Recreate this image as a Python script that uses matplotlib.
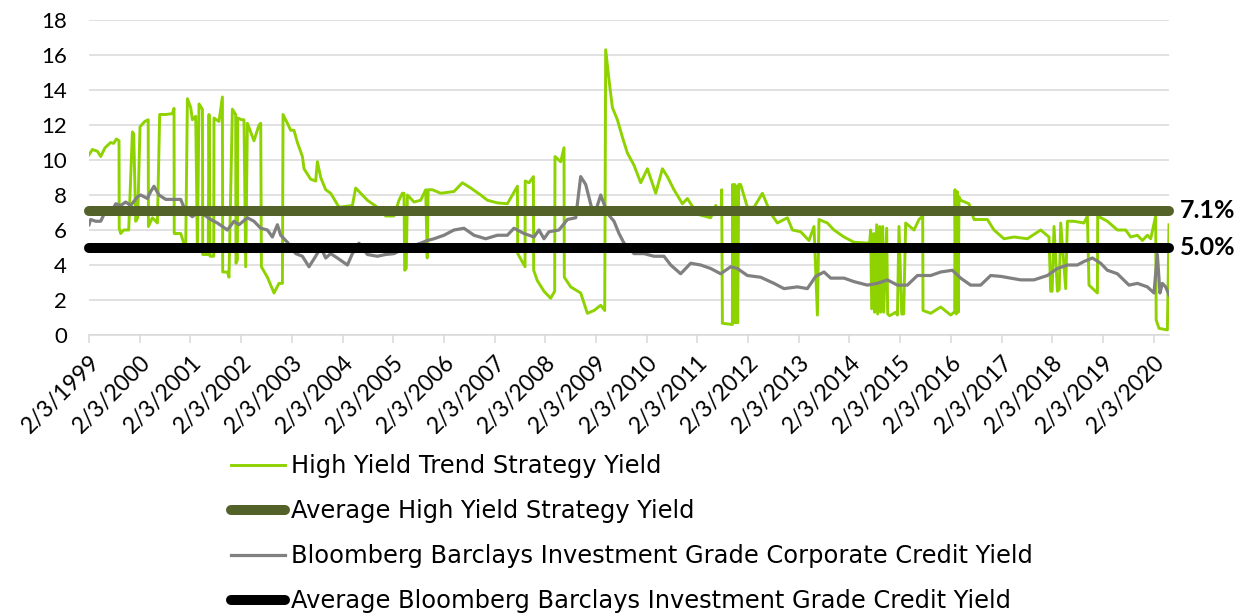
import numpy as np
import matplotlib; matplotlib.use("Agg")
import matplotlib.pyplot as plt

# ── data (decimal years, % yield) ────────────────────────────────────────────
hy_t = [1999.093,1999.160,1999.259,1999.324,1999.409,1999.521,1999.580,1999.633,1999.685,1999.689,
        1999.718,1999.777,1999.876,1999.949,1999.975,2000.014,2000.054,2000.099,2000.192,2000.261,
        2000.265,2000.343,2000.442,2000.487,2000.606,2000.738,2000.770,2000.774,2000.902,2001.000,
        2001.034,2001.099,2001.132,2001.198,2001.231,2001.263,2001.330,2001.336,2001.444,2001.460,
        2001.480,2001.553,2001.558,2001.657,2001.724,2001.730,2001.823,2001.854,2001.921,2001.986,
        2001.992,2002.020,2002.026,2002.105,2002.150,2002.184,2002.217,2002.347,2002.446,2002.480,
        2002.493,2002.612,2002.742,2002.841,2002.908,2002.920,2003.006,2003.071,2003.136,2003.203,
        2003.302,2003.334,2003.466,2003.564,2003.598,2003.663,2003.762,2003.860,2004.024,2004.288,
        2004.353,2004.452,2004.584,2004.781,2004.945,2005.109,2005.207,2005.274,2005.306,2005.320,
        2005.350,2005.373,2005.503,2005.635,2005.734,2005.764,2005.783,2005.866,2006.030,2006.292,
        2006.458,2006.622,2006.819,2006.951,2007.148,2007.345,2007.543,2007.549,2007.693,2007.697,
        2007.772,2007.858,2007.864,2007.937,2008.067,2008.200,2008.278,2008.284,2008.397,2008.462,
        2008.468,2008.594,2008.791,2008.923,2009.054,2009.186,2009.265,2009.284,2009.349,2009.416,
        2009.515,2009.614,2009.712,2009.843,2009.975,2010.107,2010.271,2010.403,2010.501,2010.631,
        2010.797,2010.896,2011.093,2011.355,2011.454,2011.562,2011.572,2011.586,2011.783,2011.789,
        2011.809,2011.829,2011.848,2011.868,2011.888,2011.908,2011.946,2012.079,2012.209,2012.375,
        2012.539,2012.671,2012.868,2012.967,2013.130,2013.294,2013.393,2013.460,2013.491,2013.657,
        2013.787,2013.985,2014.182,2014.446,2014.491,2014.511,2014.531,2014.570,2014.590,2014.629,
        2014.649,2014.689,2014.708,2014.748,2014.767,2014.827,2014.846,2014.886,2014.945,2015.004,
        2015.038,2015.069,2015.123,2015.162,2015.201,2015.365,2015.464,2015.537,2015.543,2015.695,
        2015.892,2016.089,2016.168,2016.174,2016.198,2016.217,2016.237,2016.253,2016.286,2016.450,
        2016.549,2016.813,2016.943,2017.140,2017.338,2017.602,2017.864,2018.028,2018.061,2018.090,
        2018.127,2018.194,2018.230,2018.259,2018.357,2018.391,2018.521,2018.718,2018.785,2018.817,
        2018.983,2018.988,2019.180,2019.377,2019.541,2019.639,2019.772,2019.870,2019.969,2020.034,
        2020.132,2020.142,2020.198,2020.363,2020.395]
hy_v = [10.3,10.6,10.5,10.2,10.7,11.0,10.95,11.2,11.1,6.1,
        5.8,6.0,6.0,11.6,11.5,6.5,6.7,11.9,12.2,12.3,
        6.2,6.7,6.4,12.6,12.6,12.65,12.95,5.8,5.8,4.9,
        13.5,13.0,12.3,12.5,4.8,13.2,12.9,4.6,4.6,12.6,
        4.5,4.5,12.4,12.2,13.6,3.6,3.6,3.3,12.9,12.6,
        4.1,4.3,12.4,12.3,12.3,3.9,12.1,11.1,12.0,12.1,
        3.9,3.3,2.4,2.95,2.95,12.6,12.1,11.7,11.7,11.0,
        10.2,9.5,8.9,8.8,9.9,9.0,8.3,8.1,7.3,7.4,
        8.4,8.1,7.7,7.3,6.8,6.8,7.7,8.1,8.1,3.7,
        3.8,8.0,7.6,7.7,8.3,4.4,8.3,8.3,8.1,8.2,
        8.7,8.4,8.0,7.7,7.55,7.5,8.5,4.65,3.9,8.8,
        8.7,9.05,3.7,3.1,2.5,2.1,2.5,10.2,9.9,10.7,
        3.3,2.75,2.4,1.24,1.4,1.7,1.4,16.3,14.6,13.0,
        12.3,11.3,10.4,9.7,8.7,9.5,8.1,9.5,9.05,8.3,
        7.5,7.8,6.9,6.7,7.4,6.9,8.3,0.67,0.6,8.6,
        0.7,8.6,0.7,8.5,0.7,8.6,8.6,7.3,7.3,8.1,
        6.95,6.4,6.7,6.0,5.9,5.4,6.2,1.14,6.6,6.4,
        6.0,5.6,5.3,5.25,5.3,6.0,1.5,5.8,1.3,6.3,
        1.2,6.2,1.3,6.2,1.3,6.1,1.2,1.1,1.2,1.3,
        1.14,6.2,1.2,1.2,6.4,6.0,6.6,6.8,1.4,1.24,
        1.6,1.14,1.33,8.3,1.2,8.2,1.3,7.9,7.7,7.5,
        6.6,6.6,6.0,5.5,5.6,5.5,6.0,5.6,2.5,2.5,
        6.2,2.5,2.6,6.4,2.65,6.5,6.5,6.4,6.8,2.85,
        2.4,6.8,6.5,6.0,6.0,5.6,5.7,5.4,5.7,5.5,
        6.8,0.86,0.38,0.29,6.3]

ig_t = [1999.093,1999.127,1999.225,1999.324,1999.422,1999.521,1999.620,1999.718,1999.817,1999.915,
        2000.048,2000.113,2000.245,2000.310,2000.375,2000.474,2000.606,2000.770,2000.902,2001.000,
        2001.132,2001.263,2001.395,2001.493,2001.626,2001.823,2001.953,2002.052,2002.217,2002.347,
        2002.480,2002.612,2002.710,2002.809,2002.874,2003.006,2003.170,2003.302,2003.432,2003.564,
        2003.663,2003.762,2003.860,2003.992,2004.190,2004.288,2004.418,2004.584,2004.781,2004.945,
        2005.109,2005.241,2005.635,2005.767,2005.898,2006.095,2006.292,2006.489,2006.686,2006.917,
        2007.148,2007.345,2007.475,2007.673,2007.870,2007.969,2008.067,2008.166,2008.363,2008.529,
        2008.693,2008.791,2008.890,2009.022,2009.087,2009.186,2009.318,2009.448,2009.547,2009.645,
        2009.843,2010.040,2010.237,2010.434,2010.566,2010.763,2010.961,2011.158,2011.355,2011.552,
        2011.750,2011.882,2012.079,2012.341,2012.604,2012.801,2013.065,2013.262,2013.426,2013.590,
        2013.722,2013.985,2014.182,2014.446,2014.643,2014.840,2015.038,2015.235,2015.432,2015.695,
        2015.892,2016.122,2016.286,2016.483,2016.680,2016.878,2017.075,2017.272,2017.469,2017.732,
        2017.996,2018.194,2018.391,2018.588,2018.718,2018.884,2019.047,2019.180,2019.377,2019.606,
        2019.772,2019.969,2020.099,2020.165,2020.217,2020.264,2020.329,2020.395]
ig_v = [6.3,6.6,6.5,6.5,7.1,6.95,7.5,7.4,7.6,7.4,
        7.9,8.0,7.8,8.2,8.5,8.0,7.75,7.75,7.75,7.05,
        6.76,7.05,6.8,6.6,6.4,6.0,6.5,6.3,6.7,6.5,
        6.1,6.0,5.6,6.3,5.7,5.3,4.65,4.5,3.9,4.5,
        5.0,4.4,4.65,4.4,4.0,4.65,5.25,4.6,4.5,4.6,
        4.65,4.85,5.25,5.4,5.5,5.7,6.0,6.1,5.7,5.5,
        5.7,5.7,6.1,5.8,5.6,6.0,5.5,5.9,6.0,6.6,
        6.7,9.05,8.6,7.1,7.1,8.0,6.95,6.5,5.8,5.25,
        4.65,4.65,4.5,4.5,4.0,3.5,4.1,4.0,3.8,3.5,
        3.9,3.8,3.4,3.3,2.95,2.65,2.75,2.65,3.35,3.6,
        3.25,3.25,3.05,2.85,2.95,3.15,2.85,2.85,3.4,3.4,
        3.6,3.7,3.25,2.85,2.85,3.4,3.35,3.25,3.15,3.15,
        3.4,3.8,4.0,4.0,4.2,4.4,4.1,3.7,3.5,2.85,
        2.95,2.75,2.4,4.6,2.4,2.95,2.75,2.3]

avg_hy = 7.1
avg_ig = 5.0
tick_years = list(range(1999, 2021))
TICK_OFF = 34/365.25   # ticks fall on Feb 3rd

labels = ["High Yield Trend Strategy Yield", "Average High Yield Strategy Yield",
          "Bloomberg Barclays Investment Grade Corporate Credit Yield",
          "Average Bloomberg Barclays Investment Grade Credit Yield"]

# ── figure ───────────────────────────────────────────────────────────────────
plt.rcParams["font.family"] = ["Lato", "DejaVu Sans"]
GREEN, OLIVE, GRAY, GRID = "#8ED300", "#536228", "#808080", "#D9D9D9"

fig = plt.figure(figsize=(12.47, 6.14), dpi=100, facecolor="white")
ax = fig.add_axes([89/1247, 1-335/614, (1169-89)/1247, (335-20)/614])
x0, x1 = hy_t[0], hy_t[-1]

ax.plot(hy_t, hy_v, color=GREEN, lw=2.1, zorder=3, label=labels[0])
ax.plot([x0, x1], [avg_hy]*2, color=OLIVE, lw=7.2, solid_capstyle="round",
        zorder=4, clip_on=False, label=labels[1])
ax.plot(ig_t, ig_v, color=GRAY, lw=2.3, zorder=3, label=labels[2])
ax.plot([x0, x1], [avg_ig]*2, color="black", lw=7.2, solid_capstyle="round",
        zorder=4, clip_on=False, label=labels[3])

ax.set_xlim(x0, x1); ax.set_ylim(0, 18)
ax.set_yticks(range(0, 19, 2))
ax.grid(axis="y", color=GRID, lw=1.1); ax.set_axisbelow(True)
for s in ("top", "right", "left"): ax.spines[s].set_visible(False)
ax.spines["bottom"].set_color(GRID); ax.spines["bottom"].set_linewidth(1.1)
ax.tick_params(axis="y", length=0, pad=16, labelsize=16)
ax.set_xticks([y + TICK_OFF for y in tick_years])
ax.set_xticklabels([f"2/3/{y}" for y in tick_years], rotation=45, ha="right",
                   rotation_mode="anchor", fontsize=16.5)
ax.tick_params(axis="x", length=6, width=1.1, color=GRID, pad=6)

for v in (avg_hy, avg_ig):
    ax.annotate(f"{v:.1f}%", xy=(1, v), xycoords=("axes fraction", "data"),
                xytext=(8, 0), textcoords="offset points", va="center", ha="left",
                fontsize=18, fontweight="bold")

fig.legend(loc="upper left", bbox_to_anchor=(231/1247, 1-454/614), frameon=False,
           prop={"family": ["DejaVu Sans"], "size": 17.4},
           handlelength=2.25, handletextpad=0.25, labelspacing=0.87,
           borderpad=0, borderaxespad=0)

fig.savefig("out.png", dpi=100, facecolor="white")
